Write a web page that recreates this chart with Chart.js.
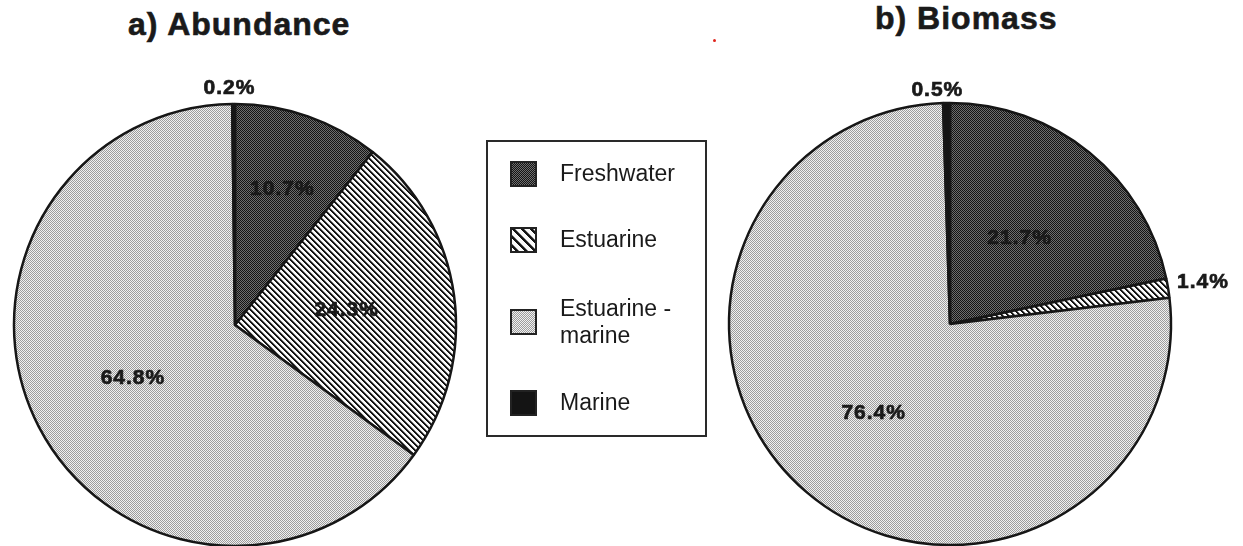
<!DOCTYPE html>
<html>
<head>
<meta charset="utf-8">
<script src="https://cdn.jsdelivr.net/npm/chart.js@4.4.1/dist/chart.umd.min.js"></script>
<style>
  body { margin: 0; width: 1243px; height: 546px; overflow: hidden; background: #fff; position: relative;
         font-family: "Liberation Sans", Arial, sans-serif; color: #1a1a1a; }
  .title { position: absolute; font-weight: bold; font-size: 32px; letter-spacing: 1px; line-height: 32px; white-space: nowrap;
           -webkit-text-stroke: 0.6px #1a1a1a; }
  .pie { position: absolute; }
  #legend { position: absolute; left: 486px; top: 140px; width: 217px; height: 293px; border: 2px solid #2a2a2a; z-index: 2; }
  .item { position: absolute; left: 22px; display: flex; align-items: center; font-size: 23px; line-height: 27px; }
  .item canvas { border: 2px solid #222; margin-right: 23px; flex: none; }
  #speck { position: absolute; left: 713px; top: 39px; width: 3px; height: 3px; border-radius: 50%; background: #e0241c; }
</style>
</head>
<body>
<div class="title" style="left:128px; top:8px">a) Abundance</div>
<div class="title" style="left:875px; top:2px">b) Biomass</div>
<div id="speck"></div>

<canvas id="abundanceChart" class="pie" width="600" height="600" style="left:-65px; top:25px"></canvas>
<canvas id="biomassChart" class="pie" width="600" height="600" style="left:650px; top:24px"></canvas>

<div id="legend"></div>

<script>
// categories and shares (%) for the two pies
const categories = ['Freshwater', 'Estuarine', 'Estuarine - marine', 'Marine'];
const legendLines = [['Freshwater'], ['Estuarine'], ['Estuarine -', 'marine'], ['Marine']];
const abundance = [10.7, 24.3, 64.8, 0.2];
const biomass = [21.7, 1.4, 76.4, 0.5];

// where each percentage sits: fraction of the radius along the slice's mid angle, plus x nudge
const abundanceLabelDist = [0.65, 0.51, 0.52, 1.07];
const abundanceLabelShift = [0, 0, 0, -4];
const biomassLabelDist = [0.50, 1.16, 0.53, 1.06];
const biomassLabelShift = [0, 0, 0, -9];

// small pixel tiles used as fill patterns
function tile(size, paint) {
    const c = document.createElement('canvas');
    c.width = c.height = size;
    const g = c.getContext('2d');
    for (let y = 0; y < size; y++) {
        for (let x = 0; x < size; x++) {
            g.fillStyle = paint(x, y);
            g.fillRect(x, y, 1, 1);
        }
    }
    return c;
}

const darkDots = tile(2, (x, y) => (x + y) % 2 ? '#6e6e6e' : '#141414');
const lightDots = tile(2, (x, y) => (x + y) % 2 ? '#f0f0f0' : '#9c9c9c');
const hatch = tile(6, (x, y) => {
    const d = (x - y + 6) % 6;
    return d < 2 ? '#121212' : d === 2 ? '#7a7a7a' : '#fafafa';
});
const wideHatch = tile(9, (x, y) => {
    const d = (x - y + 9) % 9;
    return d < 3 ? '#151515' : d === 3 ? '#808080' : '#fafafa';
});

function fills(ctx, big) {
    return [
        ctx.createPattern(darkDots, 'repeat'),
        ctx.createPattern(big ? hatch : wideHatch, 'repeat'),
        ctx.createPattern(lightDots, 'repeat'),
        '#141414'
    ];
}

// percentage text placed on (or just outside) each slice
const sliceLabels = {
    id: 'sliceLabels',
    afterDatasetsDraw(chart, args, opts) {
        const ctx = chart.ctx;
        const meta = chart.getDatasetMeta(0);
        const values = chart.data.datasets[0].data;
        ctx.save();
        ctx.font = 'bold 21px "Liberation Sans", Arial, sans-serif';
        ctx.letterSpacing = '1px';
        ctx.fillStyle = '#1a1a1a';
        ctx.strokeStyle = '#1a1a1a';
        ctx.lineWidth = 0.7;
        ctx.textAlign = 'center';
        ctx.textBaseline = 'middle';
        meta.data.forEach((arc, i) => {
            const p = arc.getProps(['x', 'y', 'startAngle', 'endAngle', 'outerRadius'], true);
            const mid = (p.startAngle + p.endAngle) / 2;
            const r = p.outerRadius * opts.dist[i];
            const x = p.x + Math.cos(mid) * r + opts.shift[i];
            const y = p.y + Math.sin(mid) * r;
            const text = values[i].toFixed(1) + '%';
            ctx.fillText(text, x, y);
            ctx.strokeText(text, x, y);
        });
        ctx.restore();
    }
};

function makePie(id, values, dist, shift) {
    const canvas = document.getElementById(id);
    return new Chart(canvas, {
        type: 'pie',
        data: {
            labels: categories,
            datasets: [{
                data: values,
                backgroundColor: fills(canvas.getContext('2d'), true),
                borderColor: '#161616',
                borderWidth: 2.5,
                radius: 221
            }]
        },
        options: {
            responsive: false,
            animation: false,
            events: [],
            plugins: {
                legend: { display: false },
                tooltip: { enabled: false },
                sliceLabels: { dist: dist, shift: shift }
            }
        },
        plugins: [sliceLabels]
    });
}

makePie('abundanceChart', abundance, abundanceLabelDist, abundanceLabelShift);
makePie('biomassChart', biomass, biomassLabelDist, biomassLabelShift);

// boxed legend in the middle
const legendTops = [18, 84, 153, 247];
const legend = document.getElementById('legend');
categories.forEach((name, i) => {
    const row = document.createElement('div');
    row.className = 'item';
    row.style.top = legendTops[i] + 'px';
    const sw = document.createElement('canvas');
    sw.width = 23;
    sw.height = 22;
    const g = sw.getContext('2d');
    g.fillStyle = fills(g, false)[i];
    g.fillRect(0, 0, sw.width, sw.height);
    const label = document.createElement('div');
    label.innerHTML = legendLines[i].join('<br>');
    row.appendChild(sw);
    row.appendChild(label);
    legend.appendChild(row);
});
</script>
</body>
</html>
